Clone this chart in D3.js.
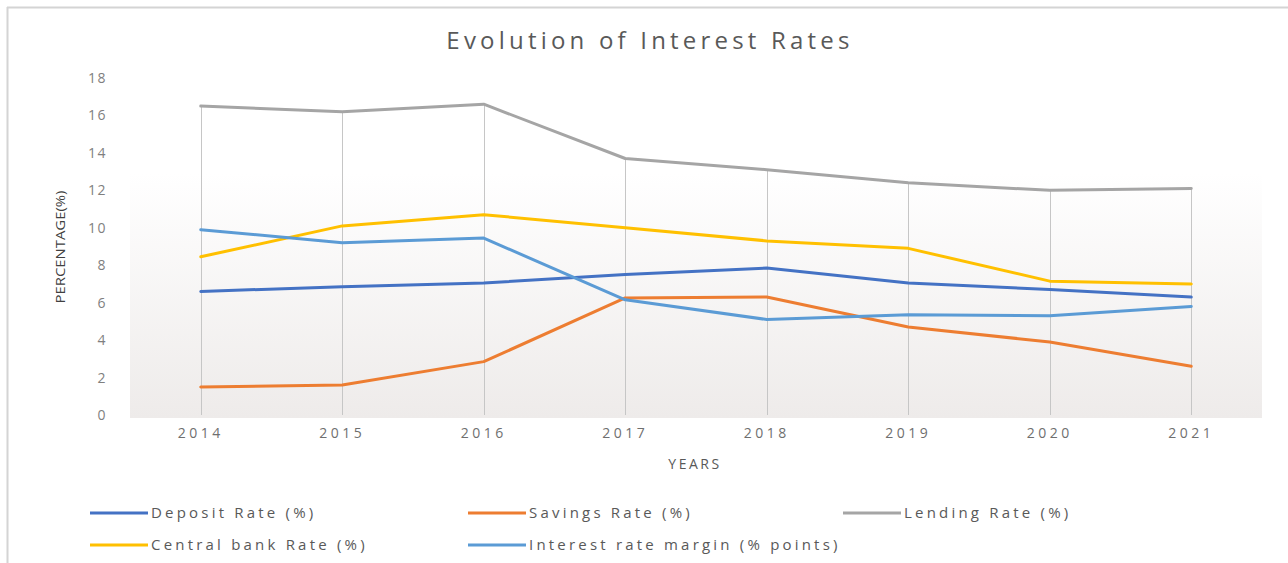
<!DOCTYPE html>
<html>
<head>
<meta charset="utf-8">
<script src="https://cdn.jsdelivr.net/npm/d3@7"></script>
<style>
    html, body { margin: 0; padding: 0; background: #fff; }
    svg { display: block; font-family: "Open Sans", "DejaVu Sans", sans-serif; }
</style>
</head>
<body>
<div id="chart"></div>
<script>
const years = ["2014", "2015", "2016", "2017", "2018", "2019", "2020", "2021"];

const depositRate  = [6.6, 6.85, 7.05, 7.5, 7.85, 7.05, 6.7, 6.3];
const savingsRate  = [1.5, 1.6, 2.85, 6.25, 6.3, 4.7, 3.9, 2.6];
const lendingRate  = [16.5, 16.2, 16.6, 13.7, 13.1, 12.4, 12.0, 12.1];
const centralRate  = [8.45, 10.1, 10.7, 10.0, 9.3, 8.9, 7.15, 7.0];
const marginRate   = [9.9, 9.2, 9.45, 6.15, 5.1, 5.35, 5.3, 5.8];

const yTicks = [0, 2, 4, 6, 8, 10, 12, 14, 16, 18];

const series = [
    { name: "Deposit Rate (%)", values: depositRate, color: "#4472C4" },
    { name: "Savings Rate (%)", values: savingsRate, color: "#ED7D31" },
    { name: "Lending Rate (%)", values: lendingRate, color: "#A5A5A5" },
    { name: "Central bank Rate (%)", values: centralRate, color: "#FFC000" },
    { name: "Interest rate margin (% points)", values: marginRate, color: "#5B9BD5" },
];

const width = 1288, height = 563;
const plot = { left: 130, right: 1262, top: 78, bottom: 415 };

const svg = d3.select("#chart")
    .append("svg")
    .attr("width", width)
    .attr("height", height);

// chart frame (top + left edges visible)
svg.append("line")
    .attr("x1", 7).attr("x2", width).attr("y1", 7.5).attr("y2", 7.5)
    .attr("stroke", "#d4d4d4").attr("stroke-width", 2);
svg.append("line")
    .attr("x1", 7.5).attr("x2", 7.5).attr("y1", 7).attr("y2", height)
    .attr("stroke", "#d4d4d4").attr("stroke-width", 2);

// plot area gradient
const defs = svg.append("defs");
const grad = defs.append("linearGradient")
    .attr("id", "plotBg").attr("x1", 0).attr("x2", 0).attr("y1", 0).attr("y2", 1);
grad.append("stop").attr("offset", "0%").attr("stop-color", "#ffffff");
grad.append("stop").attr("offset", "28%").attr("stop-color", "#ffffff");
grad.append("stop").attr("offset", "100%").attr("stop-color", "#eeebea");

svg.append("rect")
    .attr("x", plot.left).attr("y", plot.top)
    .attr("width", plot.right - plot.left)
    .attr("height", plot.bottom - plot.top + 3)
    .attr("fill", "url(#plotBg)");

const x = d3.scaleBand().domain(years).range([plot.left, plot.right]);
const xc = (d) => x(d) + x.bandwidth() / 2;
const y = d3.scaleLinear().domain([0, 18]).range([plot.bottom, plot.top]);

// title
svg.append("text")
    .attr("x", 650).attr("y", 49)
    .attr("text-anchor", "middle")
    .attr("fill", "#595959")
    .attr("font-size", 24)
    .attr("letter-spacing", "4.2px")
    .text("Evolution of Interest Rates");

// y axis labels
const yAxis = d3.axisLeft(y).tickValues(yTicks).tickSize(0).tickPadding(0);
const gy = svg.append("g")
    .attr("transform", `translate(${107},0)`)
    .call(yAxis);
gy.select(".domain").remove();
gy.selectAll("text")
    .attr("fill", "#7f7f7f")
    .attr("font-size", 14)
    .attr("letter-spacing", "1.5px")
    .attr("font-family", "\"Open Sans\", sans-serif");

// x axis labels
const xAxis = d3.axisBottom(x).tickSize(0).tickPadding(0);
const gx = svg.append("g")
    .attr("transform", `translate(0,${plot.bottom + 13})`)
    .call(xAxis);
gx.select(".domain").remove();
gx.selectAll("text")
    .attr("fill", "#6f6f6f")
    .attr("font-size", 14)
    .attr("letter-spacing", "3.5px")
    .attr("font-family", "\"Open Sans\", sans-serif");

// axis titles
svg.append("text")
    .attr("x", 695).attr("y", 469)
    .attr("text-anchor", "middle")
    .attr("fill", "#595959")
    .attr("font-size", 14)
    .attr("letter-spacing", "2.5px")
    .text("YEARS");

svg.append("text")
    .attr("transform", `translate(65,247) rotate(-90)`)
    .attr("text-anchor", "middle")
    .attr("fill", "#404040")
    .attr("font-size", 13)
    .attr("textLength", 113)
    .attr("lengthAdjust", "spacingAndGlyphs")
    .text("PERCENTAGE(%)");

// drop lines from highest point of each year
const maxByYear = years.map((yr, i) => d3.max(series, (s) => s.values[i]));
svg.append("g")
    .selectAll("line")
    .data(years)
    .join("line")
    .attr("x1", (d) => Math.round(xc(d)) + 0.5)
    .attr("x2", (d) => Math.round(xc(d)) + 0.5)
    .attr("y1", (d, i) => y(maxByYear[i]))
    .attr("y2", plot.bottom)
    .attr("stroke", "#c6c6c6")
    .attr("stroke-width", 1);

// lines
const line = d3.line()
    .x((d, i) => xc(years[i]))
    .y((d) => y(d));

svg.append("g")
    .selectAll("path")
    .data(series)
    .join("path")
    .attr("d", (s) => line(s.values))
    .attr("fill", "none")
    .attr("stroke", (s) => s.color)
    .attr("stroke-width", 3)
    .attr("stroke-linejoin", "round")
    .attr("stroke-linecap", "round");

// legend
const legendPos = [
    { x: 90, y: 513 }, { x: 468, y: 513 }, { x: 843, y: 513 },
    { x: 90, y: 545 }, { x: 468, y: 545 },
];
const lg = svg.append("g")
    .selectAll("g")
    .data(series)
    .join("g")
    .attr("transform", (s, i) => `translate(${legendPos[i].x},${legendPos[i].y})`);

lg.append("line")
    .attr("x1", 0).attr("x2", 58)
    .attr("stroke", (s) => s.color)
    .attr("stroke-width", 3);

lg.append("text")
    .attr("x", 61).attr("y", 5)
    .attr("fill", "#595959")
    .attr("font-size", 15)
    .attr("letter-spacing", "3.2px")
    .text((s) => s.name);
</script>
</body>
</html>
